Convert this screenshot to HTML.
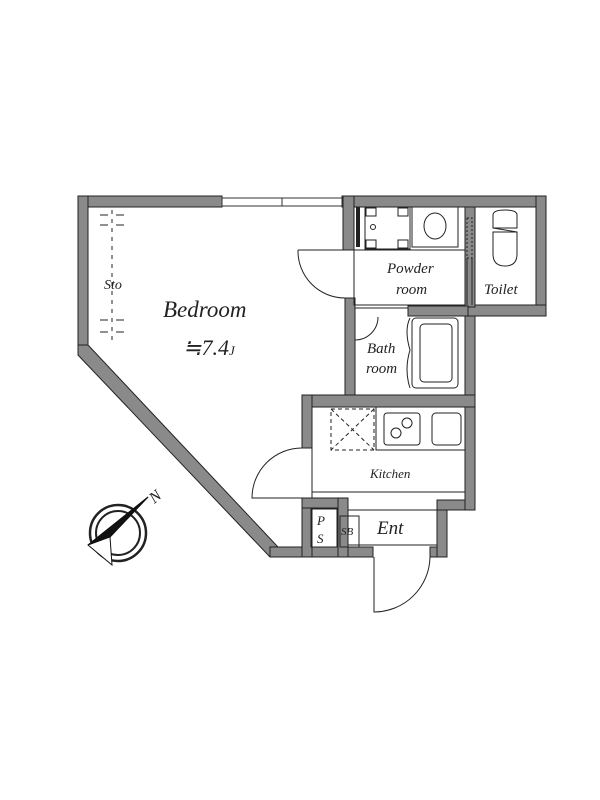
<!DOCTYPE html>
<html><head><meta charset="utf-8"><style>
html,body{margin:0;padding:0;background:#fff;width:600px;height:800px;overflow:hidden}
svg{display:block}
text{font-family:"Liberation Serif",serif;font-style:italic;fill:#222}
</style></head><body>
<svg width="600" height="800" viewBox="0 0 600 800">
<g fill="#8a8a8a" stroke="#222" stroke-width="1">
<rect x="78" y="196" width="144" height="11"/>
<rect x="342" y="196" width="203" height="11"/>
<rect x="78" y="196" width="10" height="152"/>
<polygon points="78,345 88,345 278,547 270,557 78,355"/>
<rect x="270" y="547" width="103" height="10"/>
<rect x="430" y="547" width="17" height="10"/>
<rect x="437" y="502" width="10" height="55"/>
<rect x="437" y="500" width="38" height="10"/>
<rect x="465" y="305" width="10" height="205"/>
<rect x="536" y="196" width="10" height="120"/>
<rect x="465" y="305" width="81" height="11"/>
<rect x="465" y="207" width="10" height="100"/>
<rect x="343" y="196" width="11" height="54"/>
<rect x="345" y="298" width="10" height="100"/>
<rect x="408" y="306" width="60" height="10"/>
<rect x="302" y="395" width="173" height="12"/>
<rect x="302" y="395" width="10" height="53"/>
<rect x="302" y="498" width="10" height="59"/>
<rect x="302" y="498" width="46" height="10"/>
<rect x="338" y="498" width="10" height="59"/>
</g>
<g stroke="#333" stroke-width="1" fill="#fff">
<rect x="222" y="198" width="120" height="8"/>
<line x1="282" y1="198" x2="282" y2="206"/>
</g>
<rect x="356" y="207" width="4" height="40" fill="#222"/>
<g fill="none" stroke="#222" stroke-width="1">
<path d="M298,250 L345,250 M298,250 A47,47 0 0 0 345,298"/>
<rect x="354" y="250" width="111" height="55"/>
<rect x="365" y="207" width="45" height="42"/>
<rect x="412" y="207" width="46" height="40"/>
<ellipse cx="435" cy="226" rx="11" ry="13"/>
<circle cx="373" cy="227" r="2.5"/>
<rect x="366" y="208" width="10" height="8"/><rect x="398" y="208" width="10" height="8"/>
<rect x="366" y="240" width="10" height="8"/><rect x="398" y="240" width="10" height="8"/>
<rect x="467" y="218" width="5" height="40" stroke-dasharray="2,2"/>
<line x1="467" y1="258" x2="467" y2="305"/><line x1="472" y1="258" x2="472" y2="305"/>
<path d="M493,215 Q493,210 505,210 Q517,210 517,215 L517,228 L493,228 Z"/>
<path d="M493,232 L517,232 L517,254 Q517,266 505,266 Q493,266 493,254 Z"/>
<line x1="493" y1="228" x2="517" y2="232"/>
<path d="M355,340 A23,23 0 0 0 378,317"/>
<line x1="355" y1="308" x2="408" y2="308"/>
<path d="M410,318 Q404,330 410,350 Q404,370 410,388"/>
<rect x="412" y="318" width="46" height="70" rx="4"/>
<rect x="420" y="324" width="32" height="58" rx="4"/>
<line x1="312" y1="408" x2="312" y2="498"/>
<line x1="312" y1="492" x2="465" y2="492"/>
<rect x="376" y="407" width="89" height="43"/>
<rect x="384" y="413" width="36" height="32" rx="3"/>
<circle cx="407" cy="423" r="5"/><circle cx="396" cy="433" r="5"/>
<rect x="432" y="413" width="29" height="32" rx="4"/>
<g stroke-dasharray="4,3">
<rect x="331" y="409" width="43" height="41"/>
<line x1="331" y1="409" x2="374" y2="450"/><line x1="374" y1="409" x2="331" y2="450"/>
</g>
<path d="M302,448 A50,50 0 0 0 252,498 L302,498"/>
<rect x="311" y="509" width="26" height="38"/>
<rect x="340" y="516" width="19" height="31"/>
<line x1="348" y1="510" x2="437" y2="510"/>
<line x1="348" y1="545" x2="437" y2="545"/>
<path d="M374,557 L374,612 A56,56 0 0 0 430,557"/>
<line x1="112" y1="210" x2="112" y2="345" stroke-dasharray="4,5"/>
<path d="M100,215 h8 M116,215 h8 M100,225 h8 M116,225 h8 M100,320 h8 M116,320 h8 M100,332 h8 M116,332 h8"/>
<circle cx="118" cy="533" r="28" stroke-width="2.5"/>
<circle cx="118" cy="533" r="22" stroke-width="2"/>
</g>
<polygon points="148,497 110,537 112,565 88,545" fill="#fff" stroke="#111" stroke-width="1"/>
<polygon points="148,497 88,545 110,537" fill="#111" stroke="#111" stroke-width="1"/>
<text x="150" y="502" font-size="16" transform="rotate(-40 155 497)">N</text>
<text x="104" y="289" font-size="14">Sto</text>
<text x="163" y="317" font-size="23">Bedroom</text>
<text x="183" y="355" font-size="22">≒7.4<tspan font-size="13">J</tspan></text>
<text x="387" y="273" font-size="15">Powder</text>
<text x="396" y="294" font-size="15">room</text>
<text x="484" y="294" font-size="15">Toilet</text>
<text x="367" y="353" font-size="15">Bath</text>
<text x="366" y="373" font-size="15">room</text>
<text x="370" y="478" font-size="13">Kitchen</text>
<text x="317" y="525" font-size="13">P</text>
<text x="317" y="543" font-size="13">S</text>
<text x="341" y="535" font-size="11">SB</text>
<text x="377" y="534" font-size="19">Ent</text>
</svg>
</body></html>
